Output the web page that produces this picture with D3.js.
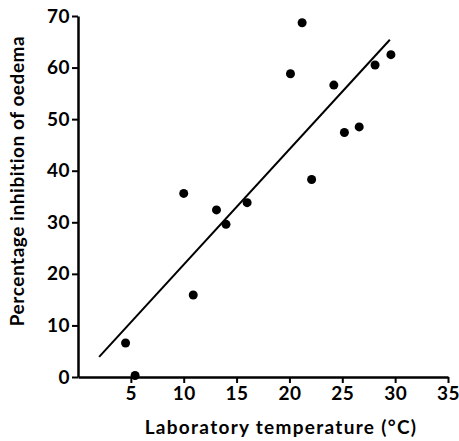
<!DOCTYPE html>
<html><head><meta charset="utf-8">
<script src="https://cdn.jsdelivr.net/npm/d3@7"></script>
<style>body{margin:0;background:#fff}</style>
</head><body><svg id="c" width="459" height="441"></svg>
<script>
const temperature = [4.5, 5.4, 10.0, 10.9, 13.1, 14.0, 16.0, 20.1, 21.2, 22.1, 24.2, 25.2, 26.6, 28.1, 29.6];
const inhibition  = [6.6, 0.3, 35.6, 15.9, 32.4, 29.6, 33.8, 58.8, 68.7, 38.3, 56.6, 47.4, 48.5, 60.5, 62.5];
const fitX = [2.0, 29.5];
const fitY = [3.9, 65.4];
const xTicks = [5, 10, 15, 20, 25, 30, 35];
const yTicks = [0, 10, 20, 30, 40, 50, 60, 70];
const xTitle = "Laboratory temperature (°C)";
const yTitle = "Percentage inhibition of oedema";

const svg = d3.select("#c");
const font = "Lato, 'Open Sans', sans-serif";
const x = d3.scaleLinear().domain([0, 35]).range([78, 448]);
const y = d3.scaleLinear().domain([0, 70]).range([377, 16]);

const xAxis = svg.append("g").attr("transform", `translate(0,${y(0)})`)
  .call(d3.axisBottom(x).tickValues(xTicks).tickSize(6).tickPadding(4).tickSizeOuter(0));
const yAxis = svg.append("g").attr("transform", `translate(${x(0)},0)`)
  .call(d3.axisLeft(y).tickValues(yTicks).tickSize(6).tickPadding(2).tickSizeOuter(0));
[xAxis, yAxis].forEach(g => {
  g.select(".domain").attr("stroke", "#000").attr("stroke-width", 2.5);
  g.selectAll(".tick line").attr("stroke", "#000").attr("stroke-width", 2);
  g.selectAll(".tick text").attr("fill", "#000").style("font-family", font)
    .style("font-weight", "700").style("font-size", "19px").style("letter-spacing", "0.5px");
});

svg.append("text").attr("x", 281).attr("y", 434).attr("text-anchor", "middle")
  .style("font-family", font).style("font-weight", "700").style("font-size", "19px")
  .style("letter-spacing", "1.3px").text(xTitle);
svg.append("text").attr("transform", "translate(24,181) rotate(-90)").attr("text-anchor", "middle")
  .style("font-family", font).style("font-weight", "700").style("font-size", "19px")
  .style("letter-spacing", "0.55px").text(yTitle);

svg.append("line").attr("x1", x(fitX[0])).attr("y1", y(fitY[0]))
  .attr("x2", x(fitX[1])).attr("y2", y(fitY[1]))
  .attr("stroke", "#000").attr("stroke-width", 2);

svg.selectAll("circle.pt").data(temperature).join("circle").attr("class", "pt")
  .attr("cx", d => x(d)).attr("cy", (d, i) => y(inhibition[i])).attr("r", 4.5).attr("fill", "#000");
</script></body></html>
